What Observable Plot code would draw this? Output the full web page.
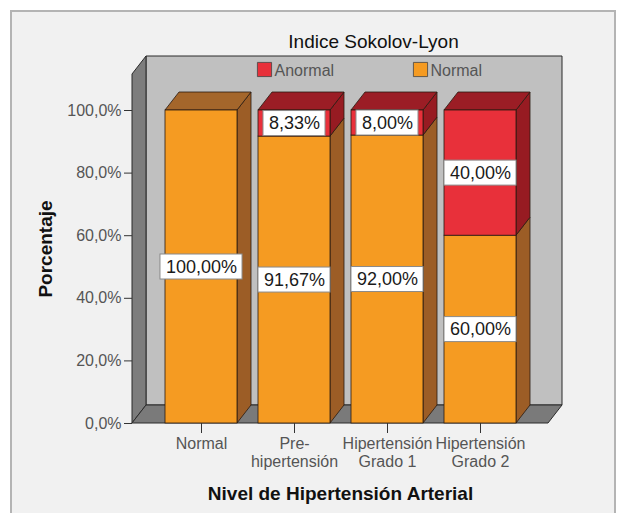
<!DOCTYPE html>
<html><head><meta charset="utf-8">
<script src="https://cdn.jsdelivr.net/npm/d3@7"></script>
<script src="https://cdn.jsdelivr.net/npm/@observablehq/plot@0.6"></script>
<style>
html,body{margin:0;padding:0;background:#fff;}
#wrap{position:relative;width:618px;height:513px;overflow:hidden;}
#frame{position:absolute;left:10px;top:10px;width:602px;height:520px;border:2px solid #b4b4b4;border-bottom:none;background:#f1f1f1;}
#chart{position:absolute;left:0;top:0;}
</style></head><body>
<div id="wrap"><div id="frame"></div><div id="chart"></div></div>
<script>
// ---- data ----
const categories = ["Normal", "Pre-hipertensión", "Hipertensión Grado 1", "Hipertensión Grado 2"];
const tickLabels = ["Normal", "Pre-\nhipertensión", "Hipertensión\nGrado 1", "Hipertensión\nGrado 2"];
const series = ["Anormal", "Normal"];
const anormal = [0, 8.33, 8.00, 40.00];
const normal = [100, 91.67, 92.00, 60.00];
const yTicks = [0, 20, 40, 60, 80, 100];

// ---- styles ----
const frontColors = ["#e8303a", "#f59b22"];
const sideColors = ["#971b22", "#9c5d26"];
const topColors = ["#9b1d25", "#a4662b"];
const wallTop = 111.5;
const DX = 14, DY = 18;
const FONT = "'Liberation Sans', Arial, sans-serif";

// stacked table: Normal at the bottom, Anormal on top
const rows = [];
categories.forEach((c, i) => {
  const n = normal[i], a = anormal[i];
  rows.push({cat: c, serie: "Normal", value: n, y1: 0, y2: n, top: a === 0});
  rows.push({cat: c, serie: "Anormal", value: a, y1: n, y2: n + a, top: true});
});
const segs = rows.filter(d => d.value > 0);
const fmtPct = v => v.toFixed(2).replace(".", ",") + "%";
const fmtTick = v => v.toFixed(1).replace(".", ",") + "%";

const ctx = document.createElement("canvas").getContext("2d");
ctx.font = "18px " + FONT;

function walls(index, {x, y}) {
  const [x0, x1] = x.range();
  const yb = y(0), yt = y(wallTop);
  const g = d3.create("svg:g").attr("stroke", "#2b2b2b").attr("stroke-width", 1).attr("stroke-linejoin", "round");
  g.append("rect").attr("x", x0 + DX).attr("y", yt - DY).attr("width", x1 - x0).attr("height", yb - yt).attr("fill", "#c0c0c0");
  g.append("path").attr("d", `M${x0},${yb}L${x0},${yt}L${x0 + DX},${yt - DY}L${x0 + DX},${yb - DY}Z`).attr("fill", "#7d7d7d");
  g.append("path").attr("d", `M${x0},${yb}L${x0 + DX},${yb - DY}L${x1 + DX},${yb - DY}L${x1},${yb}Z`).attr("fill", "#7a7a7a");
  return g.node();
}

function barFaces(index, {x, y}) {
  const bw = x.bandwidth();
  const g = d3.create("svg:g").attr("stroke", "#2a1a10").attr("stroke-width", 0.8).attr("stroke-linejoin", "round");
  for (const d of segs) {
    const k = series.indexOf(d.serie);
    const xl = x(d.cat), xr = xl + bw;
    const ya = y(d.y1), yb = y(d.y2);
    g.append("path").attr("d", `M${xr},${yb}L${xr + DX},${yb - DY}L${xr + DX},${ya - DY}L${xr},${ya}Z`).attr("fill", sideColors[k]);
    if (d.top) {
      g.append("path").attr("d", `M${xl},${yb}L${xl + DX},${yb - DY}L${xr + DX},${yb - DY}L${xr},${yb}Z`).attr("fill", topColors[k]);
    }
  }
  return g.node();
}

function labelBoxes(index, {x, y}) {
  const bw = x.bandwidth();
  const g = d3.create("svg:g").attr("fill", "#fff").attr("stroke", "#8a8a8a").attr("stroke-width", 1);
  for (const d of segs) {
    const cx = x(d.cat) + bw / 2, cy = y((d.y1 + d.y2) / 2);
    const w = ctx.measureText(fmtPct(d.value)).width + 11;
    g.append("rect").attr("x", cx - w / 2).attr("y", cy - 12.5).attr("width", w).attr("height", 25);
  }
  return g.node();
}

const legendMarks = series.flatMap((s, i) => [
  Plot.dot([s], {frameAnchor: "top", dx: -76 + i * 156, dy: -41, symbol: "square", r: 8, fill: d => d, stroke: "#444", strokeWidth: 0.8}),
  Plot.text([s], {frameAnchor: "top", lineAnchor: "middle", dx: -66 + i * 156, dy: -40, text: d => d, textAnchor: "start", fontSize: 16, fill: "#555"})
]);

const chart = Plot.plot({
  width: 618,
  height: 513,
  marginLeft: 132,
  marginRight: 70,
  marginTop: 110,
  marginBottom: 90,
  style: {fontFamily: FONT, background: "transparent", overflow: "visible"},
  x: {domain: categories, paddingInner: 0.23, paddingOuter: 0.345},
  y: {domain: [0, 100]},
  color: {domain: series, range: frontColors},
  marks: [
    walls,
    ...legendMarks,
    barFaces,
    Plot.barY(segs, {x: "cat", y1: "y1", y2: "y2", fill: "serie", stroke: "#2a1a10", strokeWidth: 0.8}),
    labelBoxes,
    Plot.text(segs, {x: "cat", y: d => (d.y1 + d.y2) / 2, text: d => fmtPct(d.value), fontSize: 18, fill: "#1a1a1a"}),
    Plot.axisY({ticks: yTicks, tickFormat: fmtTick, tickSize: 8, tickPadding: 3, fontSize: 16, fill: "#555", stroke: "#333", label: null}),
    Plot.axisX({tickFormat: d => tickLabels[categories.indexOf(d)], tickSize: 10, tickPadding: 3, fontSize: 16, lineHeight: 1.1, fill: "#555", stroke: "#333", label: null}),
    Plot.text(["Indice Sokolov-Lyon"], {frameAnchor: "top", lineAnchor: "middle", dx: 33, dy: -69, text: d => d, fontSize: 19, fill: "#111"}),
    Plot.text(["Porcentaje"], {frameAnchor: "left", textAnchor: "middle", lineAnchor: "middle", dx: -87, dy: -18, rotate: -90, text: d => d, fontSize: 19, fontWeight: "bold", fill: "#111"}),
    Plot.text(["Nivel de Hipertensión Arterial"], {frameAnchor: "bottom", lineAnchor: "middle", dy: 70, text: d => d, fontSize: 19, fontWeight: "bold", fill: "#111"})
  ]
});
document.getElementById("chart").append(chart);
</script>
</body></html>
